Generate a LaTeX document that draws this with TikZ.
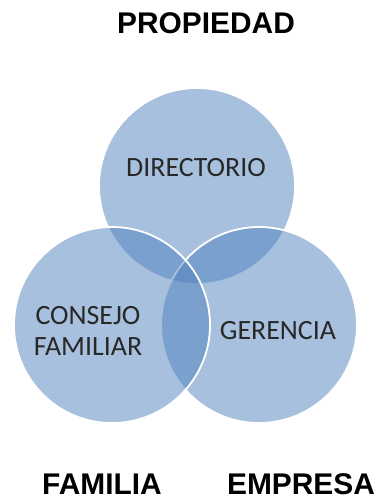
\documentclass[tikz,border=0pt]{standalone}
\usepackage{fontspec}
\setmainfont{Carlito}
\newfontfamily\titlefont{Liberation Sans}
\definecolor{vennblue}{RGB}{79,129,189}
\definecolor{venntext}{RGB}{40,40,40}
\tikzset{
  venn/.style={circle,fill=vennblue,fill opacity=0.5,draw=white,line width=1.8bp,
    minimum size=196bp,inner sep=0pt},
  vlabel/.style={text=venntext,align=center,font=\fontsize{28}{32}\selectfont},
  title/.style={font=\titlefont\bfseries\fontsize{30}{34}\selectfont,anchor=base,inner sep=0pt}
}
\begin{document}
\begin{tikzpicture}[x=1bp,y=-1bp]
  \useasboundingbox (0,0) rectangle (379,499);
  % circles
  \node[venn] (dir) at (197,186) {};
  \node[venn] (ger) at (259,325) {};
  \node[venn] (fam) at (112,325) {};
  % labels inside
  \node[vlabel] (ldir) at (196,168) {DIRECTORIO};
  \node[vlabel] (lfam) at (88,331) {CONSEJO\\FAMILIAR};
  \node[vlabel] (lger) at (278,331) {GERENCIA};
  % titles
  \node[title] (tprop) at (206,34) {PROPIEDAD};
  \node[title] (tfam) at (102,494) {FAMILIA};
  \node[title] (temp) at (301,494) {EMPRESA};
\end{tikzpicture}
\end{document}
